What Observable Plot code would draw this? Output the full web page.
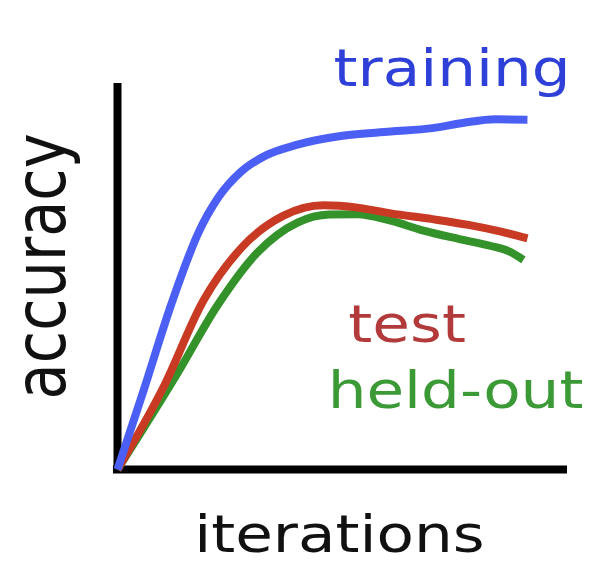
<!DOCTYPE html>
<html>
<head>
<meta charset="utf-8">
<script src="https://cdn.jsdelivr.net/npm/d3@7"></script>
<script src="https://cdn.jsdelivr.net/npm/@observablehq/plot@0.6"></script>
<style>
  html, body { margin: 0; padding: 0; background: #fff; }
  svg { display: block; }
</style>
</head>
<body>
<div id="chart"></div>
<script>
// Schematic curves (iterations 0–100, accuracy 0–100)
const trainingX = [0, 5.8, 12.0, 18.0, 22.5, 27.5, 33.0, 40.0, 50.0, 60.7, 70.0, 77.0, 84.0, 91.1];
const trainingY = [0, 20.6, 43.2, 61.7, 71.0, 77.6, 81.8, 84.6, 86.9, 88.0, 88.9, 90.3, 91.2, 91.1];

const testX = [0, 10.2, 19.1, 28.0, 36.9, 45.8, 53.3, 60.7, 70.0, 78.0, 85.0, 91.1];
const testY = [0, 21.4, 44.0, 58.3, 66.1, 68.8, 68.2, 66.7, 65.2, 63.7, 62.0, 60.2];

const heldoutX = [0, 13.3, 22.2, 31.1, 40.0, 47.0, 53.3, 60.7, 68.0, 76.0, 83.0, 87.0, 90.2];
const heldoutY = [0, 25.0, 42.7, 56.5, 64.3, 66.4, 66.5, 64.8, 62.2, 60.0, 58.2, 56.8, 54.6];

const seriesNames = ["held-out", "test", "training"];
const lineColors = { "training": "#4b5ff5", "test": "#c83a24", "held-out": "#34922a" };
const textColors = { "training": "#2e40d8", "test": "#b23a3a", "held-out": "#3c9a36" };

const labelText = ["training", "test", "held-out"];
const labelX = [48.0, 51.3, 46.7];
const labelY = [100.0, 33.1, 15.9];

const xTitle = "iterations";
const yTitle = "accuracy";

// build tidy table
const curves = { "training": [trainingX, trainingY], "test": [testX, testY], "held-out": [heldoutX, heldoutY] };
const rows = [];
for (const s of seriesNames) {
  const [xs, ys] = curves[s];
  xs.forEach((x, i) => rows.push({ series: s, x, y: ys[i] }));
}
const labels = labelText.map((t, i) => ({ t, x: labelX[i], y: labelY[i] }));

const plot = Plot.plot({
  width: 600,
  height: 574,
  marginLeft: 117,
  marginRight: 33,
  marginTop: 85,
  marginBottom: 105,
  x: { domain: [0, 100], axis: null },
  y: { domain: [0, 100], axis: null },
  style: { fontFamily: "DejaVu Sans", background: "#fff" },
  marks: [
    Plot.ruleX([0], { y1: -1.05, y2: 100.5, stroke: "#000", strokeWidth: 8 }),
    Plot.ruleY([0], { x1: -0.9, x2: 100, stroke: "#000", strokeWidth: 8 }),
    ...seriesNames.map(s => Plot.line(rows.filter(d => d.series === s), {
      x: "x", y: "y", stroke: lineColors[s], strokeWidth: 8,
      curve: "monotone-x", strokeLinecap: "butt", strokeLinejoin: "round"
    })),
    Plot.text(labels, {
      x: "x", y: "y", text: "t", fill: d => textColors[d.t],
      fontSize: 51, textAnchor: "start", lineAnchor: "bottom"
    }),
    Plot.text([xTitle], {
      x: 49.3, y: -21.6, text: d => d, fill: "#111",
      fontSize: 51, textAnchor: "middle", lineAnchor: "bottom"
    }),
    Plot.text([yTitle], {
      x: -11.6, y: 52.9, text: d => d, fill: "#111", rotate: -90,
      fontSize: 59, textAnchor: "middle", lineAnchor: "bottom"
    })
  ]
});

// the reference lettering is widened horizontally
d3.select(plot).selectAll('g[aria-label="text"] text').each(function () {
  const t = this.getAttribute("transform") || "";
  this.setAttribute("transform", t + (t.includes("rotate") ? " scale(1,1.2)" : " scale(1.2,1)"));
});

document.getElementById("chart").appendChild(plot);
</script>
</body>
</html>
